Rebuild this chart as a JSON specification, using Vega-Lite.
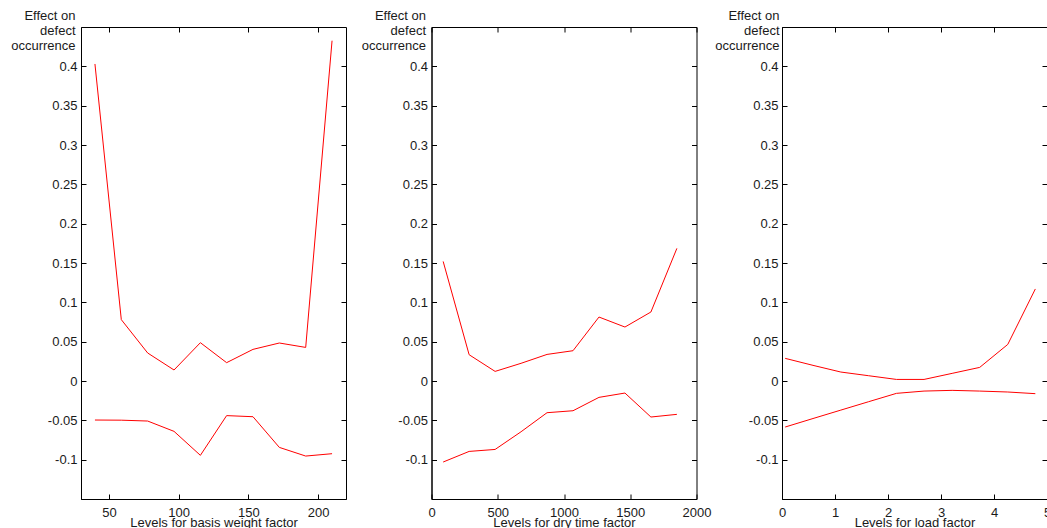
{
  "$schema": "https://vega.github.io/schema/vega-lite/v6.json",
  "padding": {"left": 10, "top": 8, "right": 5, "bottom": 0},
  "autosize": {"type": "pad"},
  "spacing": 85.5,
  "bounds": "flush",
  "config": {
    "view": {"stroke": "black", "strokeWidth": 1},
    "axis": {
      "labelFont": "Liberation Sans", "labelFontSize": 13, "labelColor": "#1a1a1a",
      "titleFont": "Liberation Sans", "titleFontSize": 13, "titleFontWeight": "normal", "titleColor": "#1a1a1a",
      "tickColor": "black", "domainColor": "black", "grid": false, "tickSize": -5,
      "labelFlush": false, "labelOverlap": false, "labelExpr": "toString(datum.value)"
    }
  },
  "datasets": {
    "basis": [
      {"level": 40, "bound": "upper", "effect": 0.403},
      {"level": 58.9, "bound": "upper", "effect": 0.078},
      {"level": 77.8, "bound": "upper", "effect": 0.0356},
      {"level": 96.7, "bound": "upper", "effect": 0.014},
      {"level": 115.6, "bound": "upper", "effect": 0.0487},
      {"level": 134.4, "bound": "upper", "effect": 0.0233},
      {"level": 153.3, "bound": "upper", "effect": 0.0402},
      {"level": 172.2, "bound": "upper", "effect": 0.0483},
      {"level": 191.1, "bound": "upper", "effect": 0.0427},
      {"level": 210, "bound": "upper", "effect": 0.4326},
      {"level": 40, "bound": "lower", "effect": -0.0496},
      {"level": 58.9, "bound": "lower", "effect": -0.0498},
      {"level": 77.8, "bound": "lower", "effect": -0.0509},
      {"level": 96.7, "bound": "lower", "effect": -0.064},
      {"level": 115.6, "bound": "lower", "effect": -0.0945},
      {"level": 134.4, "bound": "lower", "effect": -0.044},
      {"level": 153.3, "bound": "lower", "effect": -0.0454},
      {"level": 172.2, "bound": "lower", "effect": -0.0844},
      {"level": 191.1, "bound": "lower", "effect": -0.0954},
      {"level": 210, "bound": "lower", "effect": -0.0924}
    ],
    "dry": [
      {"level": 88, "bound": "upper", "effect": 0.152},
      {"level": 284, "bound": "upper", "effect": 0.0334},
      {"level": 480, "bound": "upper", "effect": 0.0122},
      {"level": 676, "bound": "upper", "effect": 0.0225},
      {"level": 872, "bound": "upper", "effect": 0.0338},
      {"level": 1068, "bound": "upper", "effect": 0.0385},
      {"level": 1264, "bound": "upper", "effect": 0.0813},
      {"level": 1460, "bound": "upper", "effect": 0.0686},
      {"level": 1656, "bound": "upper", "effect": 0.0877},
      {"level": 1852, "bound": "upper", "effect": 0.1686},
      {"level": 88, "bound": "lower", "effect": -0.103},
      {"level": 284, "bound": "lower", "effect": -0.0895},
      {"level": 480, "bound": "lower", "effect": -0.087},
      {"level": 676, "bound": "lower", "effect": -0.0645},
      {"level": 872, "bound": "lower", "effect": -0.0403},
      {"level": 1068, "bound": "lower", "effect": -0.0378},
      {"level": 1264, "bound": "lower", "effect": -0.0208},
      {"level": 1460, "bound": "lower", "effect": -0.0153},
      {"level": 1656, "bound": "lower", "effect": -0.0458},
      {"level": 1852, "bound": "lower", "effect": -0.0424}
    ],
    "load": [
      {"level": 0.06, "bound": "upper", "effect": 0.0288},
      {"level": 0.585, "bound": "upper", "effect": 0.0199},
      {"level": 1.11, "bound": "upper", "effect": 0.0114},
      {"level": 1.635, "bound": "upper", "effect": 0.0067},
      {"level": 2.16, "bound": "upper", "effect": 0.002},
      {"level": 2.68, "bound": "upper", "effect": 0.002},
      {"level": 3.21, "bound": "upper", "effect": 0.0097},
      {"level": 3.73, "bound": "upper", "effect": 0.0173},
      {"level": 4.26, "bound": "upper", "effect": 0.0465},
      {"level": 4.78, "bound": "upper", "effect": 0.117},
      {"level": 0.06, "bound": "lower", "effect": -0.0585},
      {"level": 0.585, "bound": "lower", "effect": -0.0477},
      {"level": 1.11, "bound": "lower", "effect": -0.037},
      {"level": 1.635, "bound": "lower", "effect": -0.0263},
      {"level": 2.16, "bound": "lower", "effect": -0.0157},
      {"level": 2.68, "bound": "lower", "effect": -0.0128},
      {"level": 3.21, "bound": "lower", "effect": -0.0119},
      {"level": 3.73, "bound": "lower", "effect": -0.0128},
      {"level": 4.26, "bound": "lower", "effect": -0.014},
      {"level": 4.78, "bound": "lower", "effect": -0.0161}
    ]
  },
  "hconcat": [
    {
      "width": 265, "height": 472,
      "data": {"name": "basis"},
      "layer": [
        {
          "mark": {"type": "line", "color": "#ff0000", "strokeWidth": 1},
          "encoding": {
            "x": {"field": "level", "type": "quantitative",
              "scale": {"domain": [30, 220], "nice": false, "zero": false},
              "axis": {"orient": "bottom", "values": [50, 100, 150, 200], "title": "Levels for basis weight factor",
                "labelPadding": 12.5, "titleY": 27, "titleBaseline": "alphabetic"}},
            "y": {"field": "effect", "type": "quantitative",
              "scale": {"domain": [-0.15, 0.45], "nice": false, "zero": false},
              "axis": {"orient": "left", "values": [-0.1, -0.05, 0, 0.05, 0.1, 0.15, 0.2, 0.25, 0.3, 0.35, 0.4],
                "labelPadding": 9,
                "title": ["Effect on", "defect", "occurrence"], "titleAngle": 0, "titleAlign": "right",
                "titleBaseline": "middle", "titleX": -6, "titleY": -12, "titleLineHeight": 15.3}},
            "detail": {"field": "bound", "type": "nominal"}
          }
        },
        {
          "mark": {"type": "line", "opacity": 0},
          "encoding": {
            "x": {"field": "level", "type": "quantitative",
              "axis": {"orient": "top", "values": [50, 100, 150, 200], "labels": false, "title": null, "domain": false}},
            "y": {"field": "effect", "type": "quantitative",
              "axis": {"orient": "right", "values": [-0.1, -0.05, 0, 0.05, 0.1, 0.15, 0.2, 0.25, 0.3, 0.35, 0.4], "labels": false, "title": null, "domain": false}},
            "detail": {"field": "bound", "type": "nominal"}
          }
        }
      ],
      "resolve": {"axis": {"x": "independent", "y": "independent"}}
    },
    {
      "width": 265, "height": 472,
      "data": {"name": "dry"},
      "layer": [
        {
          "mark": {"type": "line", "color": "#ff0000", "strokeWidth": 1},
          "encoding": {
            "x": {"field": "level", "type": "quantitative",
              "scale": {"domain": [0, 2000], "nice": false, "zero": false},
              "axis": {"orient": "bottom", "values": [0, 500, 1000, 1500, 2000], "title": "Levels for dry time factor",
                "labelPadding": 12.5, "titleY": 27, "titleBaseline": "alphabetic"}},
            "y": {"field": "effect", "type": "quantitative",
              "scale": {"domain": [-0.15, 0.45], "nice": false, "zero": false},
              "axis": {"orient": "left", "values": [-0.1, -0.05, 0, 0.05, 0.1, 0.15, 0.2, 0.25, 0.3, 0.35, 0.4],
                "labelPadding": 9,
                "title": ["Effect on", "defect", "occurrence"], "titleAngle": 0, "titleAlign": "right",
                "titleBaseline": "middle", "titleX": -6, "titleY": -12, "titleLineHeight": 15.3}},
            "detail": {"field": "bound", "type": "nominal"}
          }
        },
        {
          "mark": {"type": "line", "opacity": 0},
          "encoding": {
            "x": {"field": "level", "type": "quantitative",
              "axis": {"orient": "top", "values": [0, 500, 1000, 1500, 2000], "labels": false, "title": null, "domain": false}},
            "y": {"field": "effect", "type": "quantitative",
              "axis": {"orient": "right", "values": [-0.1, -0.05, 0, 0.05, 0.1, 0.15, 0.2, 0.25, 0.3, 0.35, 0.4], "labels": false, "title": null, "domain": false}},
            "detail": {"field": "bound", "type": "nominal"}
          }
        }
      ],
      "resolve": {"axis": {"x": "independent", "y": "independent"}}
    },
    {
      "width": 265, "height": 472,
      "data": {"name": "load"},
      "layer": [
        {
          "mark": {"type": "line", "color": "#ff0000", "strokeWidth": 1},
          "encoding": {
            "x": {"field": "level", "type": "quantitative",
              "scale": {"domain": [0, 5], "nice": false, "zero": false},
              "axis": {"orient": "bottom", "values": [0, 1, 2, 3, 4, 5], "title": "Levels for load factor",
                "labelPadding": 12.5, "titleY": 27, "titleBaseline": "alphabetic"}},
            "y": {"field": "effect", "type": "quantitative",
              "scale": {"domain": [-0.15, 0.45], "nice": false, "zero": false},
              "axis": {"orient": "left", "values": [-0.1, -0.05, 0, 0.05, 0.1, 0.15, 0.2, 0.25, 0.3, 0.35, 0.4],
                "labelPadding": 9,
                "title": ["Effect on", "defect", "occurrence"], "titleAngle": 0, "titleAlign": "right",
                "titleBaseline": "middle", "titleX": -3, "titleY": -12, "titleLineHeight": 15.3}},
            "detail": {"field": "bound", "type": "nominal"}
          }
        },
        {
          "mark": {"type": "line", "opacity": 0},
          "encoding": {
            "x": {"field": "level", "type": "quantitative",
              "axis": {"orient": "top", "values": [0, 1, 2, 3, 4, 5], "labels": false, "title": null, "domain": false}},
            "y": {"field": "effect", "type": "quantitative",
              "axis": {"orient": "right", "values": [-0.1, -0.05, 0, 0.05, 0.1, 0.15, 0.2, 0.25, 0.3, 0.35, 0.4], "labels": false, "title": null, "domain": false}},
            "detail": {"field": "bound", "type": "nominal"}
          }
        }
      ],
      "resolve": {"axis": {"x": "independent", "y": "independent"}}
    }
  ]
}
